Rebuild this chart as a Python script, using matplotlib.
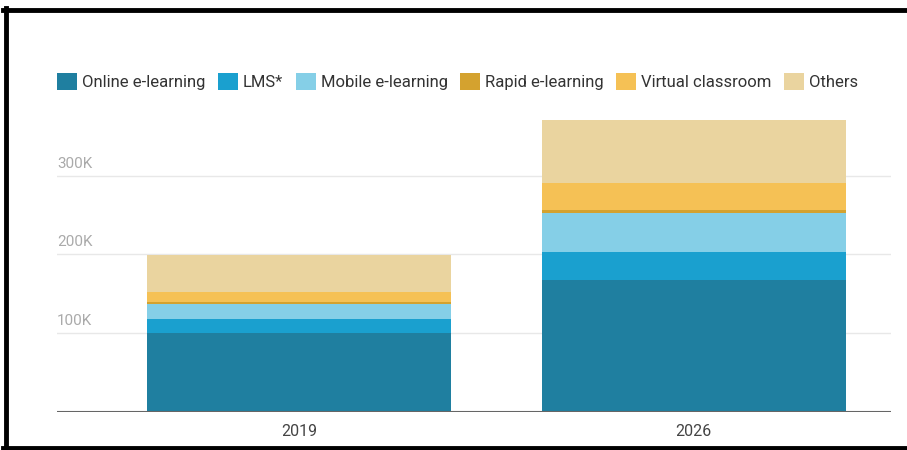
import matplotlib.pyplot as plt
from matplotlib.lines import Line2D
from matplotlib.patches import Patch

years = ["2019", "2026"]
segments = ["Online e-learning", "LMS*", "Mobile e-learning",
            "Rapid e-learning", "Virtual classroom", "Others"]
online = [100.5, 167.5]
lms = [17.5, 35.7]
mobile = [19.5, 49.3]
rapid = [1.5, 4.0]
virtual = [13.0, 34.0]
others = [47.0, 81.3]
yticks = [100, 200, 300]
ytick_labels = ["100K", "200K", "300K"]

colors = ["#1f7fa0", "#1aa0cf", "#85cfe7", "#d4a22f", "#f5c155", "#ead49f"]

plt.rcParams['font.family'] = ['Roboto', 'DejaVu Sans']

fig = plt.figure(figsize=(9.07, 4.5), dpi=100)
ax = fig.add_axes([57 / 907, 38.5 / 450, 834 / 907, 301.5 / 450])

x = [0, 1]
bottom = [0, 0]
for vals, col, name in zip([online, lms, mobile, rapid, virtual, others], colors, segments):
    ax.bar(x, vals, width=0.77, bottom=bottom, color=col, label=name, zorder=2)
    bottom = [b + v for b, v in zip(bottom, vals)]

ax.set_xlim(-0.612, 1.499)
ax.set_ylim(0, 384)

# gridlines with labels sitting on top of them
for t, lab in zip(yticks, ytick_labels):
    ax.axhline(t, color="#e8e8e8", lw=1, zorder=1)
    ax.text(0, t + 6.5, lab, transform=ax.get_yaxis_transform(),
            color="#aaaaaa", fontsize=11, ha="left", va="bottom")
ax.axhline(0, color="#666666", lw=1.5, zorder=3)

ax.set_yticks([])
ax.set_xticks(x)
ax.set_xticklabels(years, fontsize=11.5, color="#444444")
ax.tick_params(axis="x", length=0, pad=9)
for s in ax.spines.values():
    s.set_visible(False)

handles = [Patch(facecolor=c, edgecolor="none") for c in colors]
fig.legend(handles, segments, loc="center left", bbox_to_anchor=(57 / 907, 1 - 81.5 / 450),
           ncol=6, frameon=False, fontsize=12, handlelength=1.2, handleheight=1.15,
           handletextpad=0.3, columnspacing=0.75, borderpad=0, borderaxespad=0,
           labelcolor="#333333")

# black frame on top, left and bottom
fig.add_artist(Line2D([3 / 907, 1], [1 - 9.5 / 450] * 2, color="black", lw=3.5, transform=fig.transFigure))
fig.add_artist(Line2D([5.5 / 907] * 2, [2 / 450, 1 - 8 / 450], color="black", lw=3.5, transform=fig.transFigure))
fig.add_artist(Line2D([3 / 907, 1], [2.5 / 450] * 2, color="black", lw=3.5, transform=fig.transFigure))

fig.savefig("out.png", dpi=100)
